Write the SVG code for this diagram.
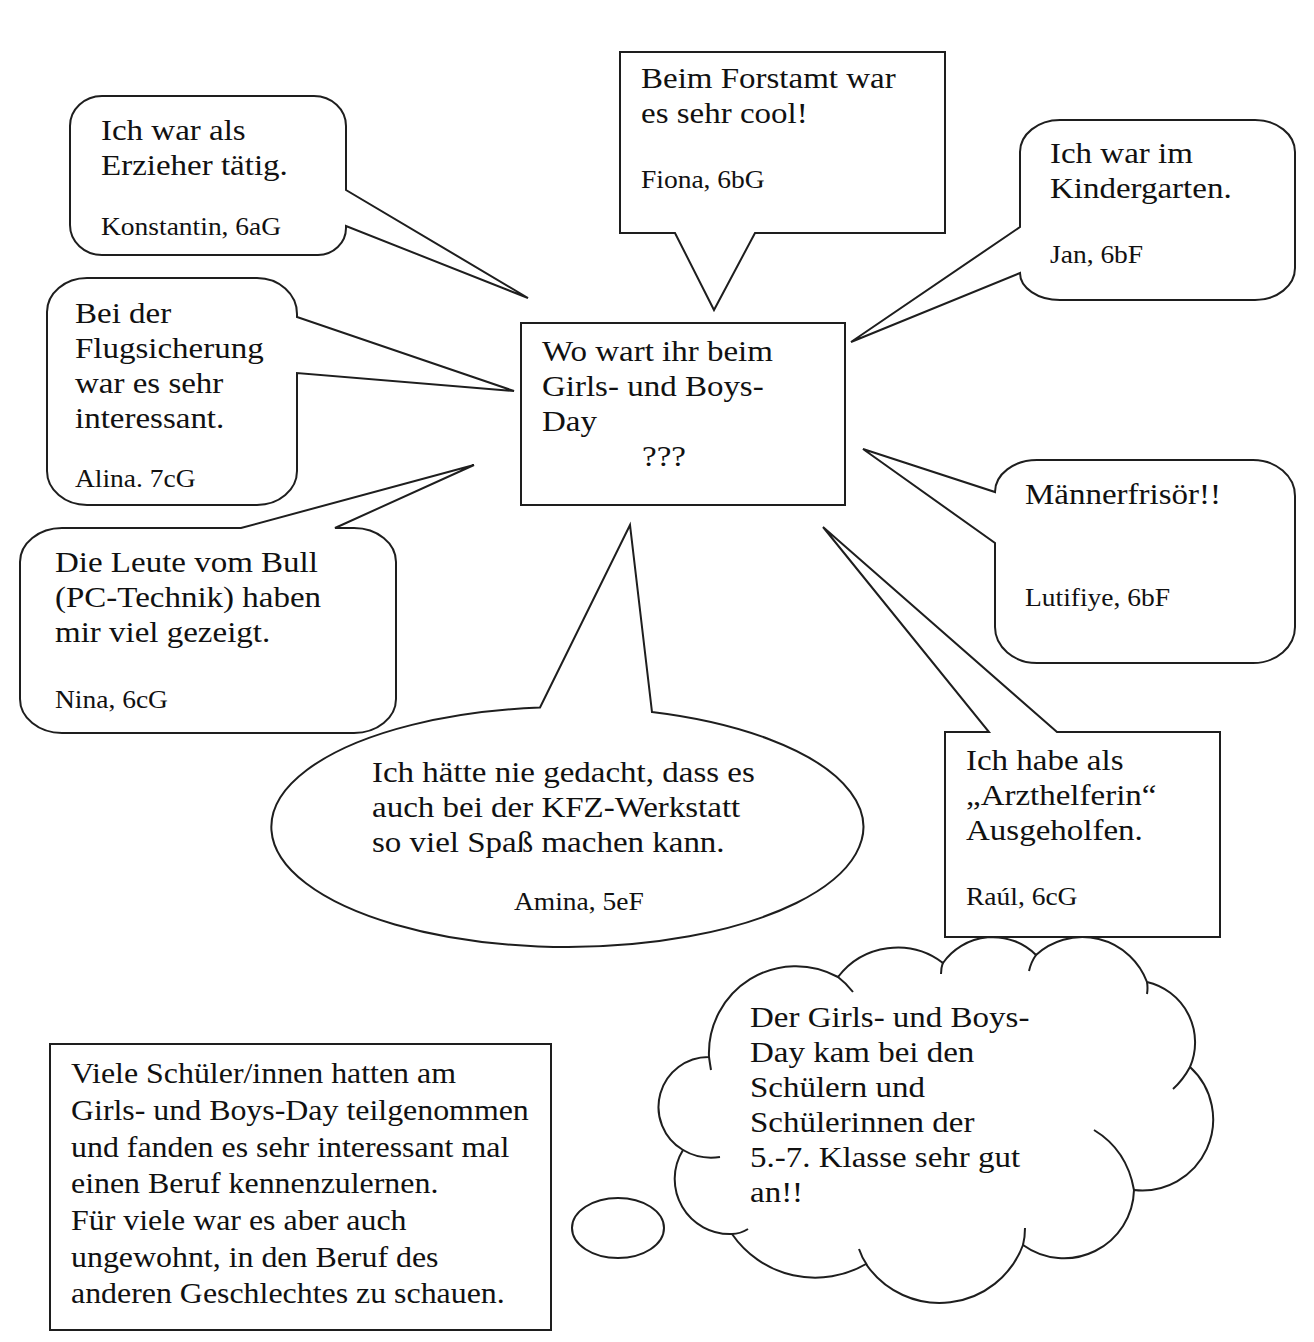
<svg xmlns="http://www.w3.org/2000/svg" width="1314" height="1342" viewBox="0 0 1314 1342">
<style>
.shape{fill:#fff;stroke:#1e1e1e;stroke-width:2;stroke-linejoin:miter}
.line{fill:none;stroke:#1e1e1e;stroke-width:2}
.t{font-family:"Liberation Serif","Times New Roman",serif;font-size:30px;fill:#111}
.s{font-size:25px}
.b{font-size:29px}
</style>
<rect width="1314" height="1342" fill="#fff"/>

<g id="center">
<rect class="shape" x="521" y="323" width="324" height="182"/>
<text class="t" transform="translate(542 0) scale(1.1 1)"><tspan x="0" y="361">Wo wart ihr beim</tspan><tspan x="0" y="396">Girls- und Boys-</tspan><tspan x="0" y="431">Day</tspan><tspan x="91" y="466">???</tspan></text>
</g>

<g id="konstantin">
<path class="shape" d="M102,96 H314 A32 30 0 0 1 346 126 V190 L528 298 L346 226 V228 A28 27 0 0 1 318 255 H102 A32 30 0 0 1 70 225 V126 A32 30 0 0 1 102 96 Z"/>
<text class="t" transform="translate(101 0) scale(1.1 1)"><tspan x="0" y="140">Ich war als</tspan><tspan x="0" y="175">Erzieher tätig.</tspan></text>
<text class="t s" transform="translate(101 0) scale(1.1 1)"><tspan x="0" y="235">Konstantin, 6aG</tspan></text>
</g>

<g id="fiona">
<path class="shape" d="M620,52 H945 V233 H755 L714 310 L675 233 H620 Z"/>
<text class="t" transform="translate(641 0) scale(1.1 1)"><tspan x="0" y="88">Beim Forstamt war</tspan><tspan x="0" y="123">es sehr cool!</tspan></text>
<text class="t s" transform="translate(641 0) scale(1.1 1)"><tspan x="0" y="188">Fiona, 6bG</tspan></text>
</g>

<g id="jan">
<path class="shape" d="M1060,120 H1255 A40 32 0 0 1 1295 152 V268 A40 32 0 0 1 1255 300 H1060 A40 27 0 0 1 1020 273 L851 342 L1020 227 V152 A40 32 0 0 1 1060 120 Z"/>
<text class="t" transform="translate(1050 0) scale(1.1 1)"><tspan x="0" y="163">Ich war im</tspan><tspan x="0" y="198">Kindergarten.</tspan></text>
<text class="t s" transform="translate(1050 0) scale(1.1 1)"><tspan x="0" y="263">Jan, 6bF</tspan></text>
</g>

<g id="alina">
<path class="shape" d="M87,278 H257 A40 36 0 0 1 297 314 V317 L514 391 L297 373 V471 A40 34 0 0 1 257 505 H87 A40 34 0 0 1 47 471 V312 A40 34 0 0 1 87 278 Z"/>
<text class="t" transform="translate(75 0) scale(1.1 1)"><tspan x="0" y="323">Bei der</tspan><tspan x="0" y="358">Flugsicherung</tspan><tspan x="0" y="393">war es sehr</tspan><tspan x="0" y="428">interessant.</tspan></text>
<text class="t s" transform="translate(75 0) scale(1.1 1)"><tspan x="0" y="487">Alina. 7cG</tspan></text>
</g>

<g id="nina">
<path class="shape" d="M62,528 H241 L474 465 L335 528 H354 A42 34 0 0 1 396 562 V699 A42 34 0 0 1 354 733 H62 A42 34 0 0 1 20 699 V562 A42 34 0 0 1 62 528 Z"/>
<text class="t" transform="translate(55 0) scale(1.1 1)"><tspan x="0" y="572">Die Leute vom Bull</tspan><tspan x="0" y="607">(PC-Technik) haben</tspan><tspan x="0" y="642">mir viel gezeigt.</tspan></text>
<text class="t s" transform="translate(55 0) scale(1.1 1)"><tspan x="0" y="708">Nina, 6cG</tspan></text>
</g>

<g id="amina">
<path class="shape" d="M540,707.5 L630 525 L652 712 A296 120 0 1 1 540 707.5 Z"/>
<text class="t" transform="translate(372 0) scale(1.1 1)"><tspan x="0" y="782">Ich hätte nie gedacht, dass es</tspan><tspan x="0" y="817">auch bei der KFZ-Werkstatt</tspan><tspan x="0" y="852">so viel Spaß machen kann.</tspan></text>
<text class="t s" transform="translate(514 0) scale(1.1 1)"><tspan x="0" y="910">Amina, 5eF</tspan></text>
</g>

<g id="lutifiye">
<path class="shape" d="M1037,460 H1253 A42 36 0 0 1 1295 496 V627 A42 36 0 0 1 1253 663 H1037 A42 36 0 0 1 995 627 V543 L863 449 L995 492 A42 32 0 0 1 1037 460 Z"/>
<text class="t" transform="translate(1025 0) scale(1.1 1)"><tspan x="0" y="504">Männerfrisör!!</tspan></text>
<text class="t s" transform="translate(1025 0) scale(1.1 1)"><tspan x="0" y="606">Lutifiye, 6bF</tspan></text>
</g>

<g id="raul">
<path class="shape" d="M945,732 H989 L823 527 L1057 732 H1220 V937 H945 Z"/>
<text class="t" transform="translate(966 0) scale(1.1 1)"><tspan x="0" y="770">Ich habe als</tspan><tspan x="0" y="805">„Arzthelferin“</tspan><tspan x="0" y="840">Ausgeholfen.</tspan></text>
<text class="t s" transform="translate(966 0) scale(1.1 1)"><tspan x="0" y="905">Raúl, 6cG</tspan></text>
</g>

<g id="cloud">
<ellipse class="shape" cx="618" cy="1228" rx="46" ry="30"/>
<path class="shape" d="M709,1057 A50 50 0 0 0 683 1150 A55 55 0 0 0 732 1234 A101 101 0 0 0 866 1264 A89 89 0 0 0 1023 1245 A70 70 0 0 0 1134 1190 A71 71 0 0 0 1190 1067 A62 62 0 0 0 1147 982 A69 69 0 0 0 1036 955 A61 61 0 0 0 943 963 A75 75 0 0 0 838 977 A87 87 0 0 0 709 1057 Z"/>
<path class="line" d="M709,1057 Q710,1064 711,1070 M683,1150 Q700,1160 720,1157 M732,1234 Q740,1234 748,1229 M859,1249 Q862,1258 867,1265 M1023,1245 Q1025,1237 1025,1228 M1134,1190 Q1127,1150 1094,1130 M1190,1067 Q1183,1080 1173,1089 M1147,982 Q1148,988 1147,994 M1029,971 Q1031,962 1036,955 M941,974 Q941,968 943,962 M853,992 Q846,983 838,977"/>
<text class="t" transform="translate(750 0) scale(1.1 1)"><tspan x="0" y="1027">Der Girls- und Boys-</tspan><tspan x="0" y="1062">Day kam bei den</tspan><tspan x="0" y="1097">Schülern und</tspan><tspan x="0" y="1132">Schülerinnen der</tspan><tspan x="0" y="1167">5.-7. Klasse sehr gut</tspan><tspan x="0" y="1202">an!!</tspan></text>
</g>

<g id="summary">
<rect class="shape" x="50" y="1044" width="501" height="286"/>
<text class="t b" transform="translate(71 0) scale(1.1 1)"><tspan x="0" y="1083">Viele Schüler/innen hatten am</tspan><tspan x="0" y="1120">Girls- und Boys-Day teilgenommen</tspan><tspan x="0" y="1157">und fanden es sehr interessant mal</tspan><tspan x="0" y="1193">einen Beruf kennenzulernen.</tspan><tspan x="0" y="1230">Für viele war es aber auch</tspan><tspan x="0" y="1267">ungewohnt, in den Beruf des</tspan><tspan x="0" y="1303">anderen Geschlechtes zu schauen.</tspan></text>
</g>
</svg>
